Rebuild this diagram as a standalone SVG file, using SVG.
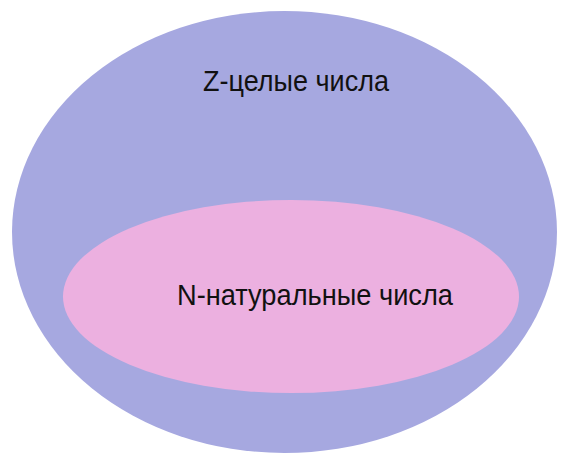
<svg xmlns="http://www.w3.org/2000/svg" width="568" height="476" viewBox="0 0 568 476">
<style>
.lbl{font-family:"Liberation Sans Narrow","Liberation Sans",Arial,sans-serif;font-size:30px;fill:#111111;}
</style>
<rect width="568" height="476" fill="#ffffff"/>
<g id="node-z">
<ellipse cx="284.5" cy="232" rx="272.5" ry="221" fill="#a6a8e0"/>
<text class="lbl" x="203" y="91" textLength="186" lengthAdjust="spacingAndGlyphs">Z-целые числа</text>
</g>
<g id="node-n">
<ellipse cx="291" cy="296.5" rx="228" ry="96.5" fill="#ecb0e0"/>
<text class="lbl" x="177" y="305" textLength="276" lengthAdjust="spacingAndGlyphs">N-натуральные числа</text>
</g>
<g id="connectors"/>
</svg>
